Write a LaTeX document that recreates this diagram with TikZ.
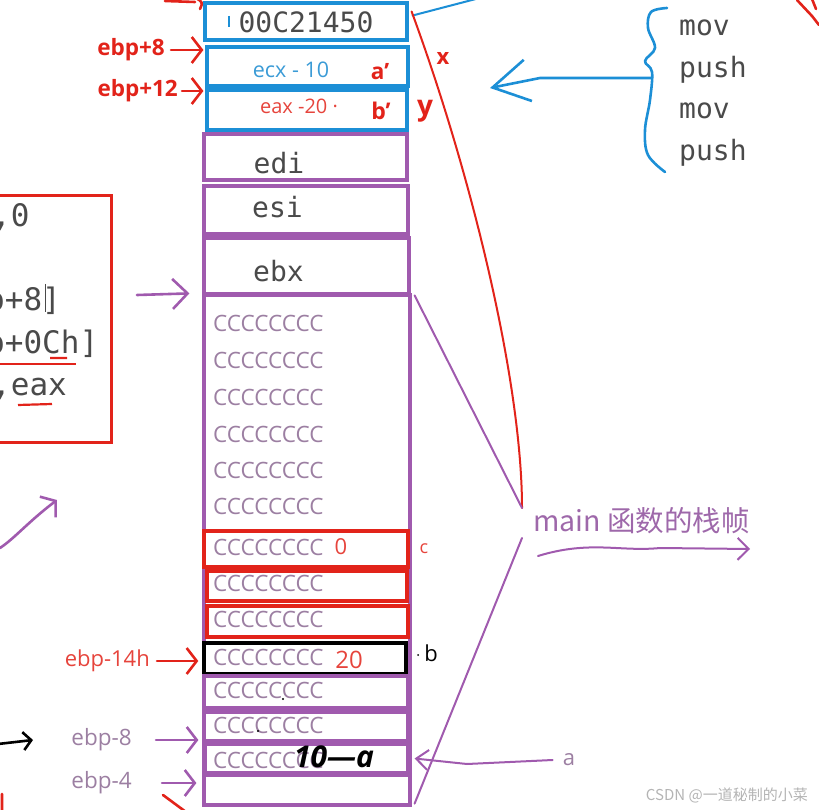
\documentclass[tikz,border=0pt]{standalone}
\usepackage{fontspec}
\usepackage{xcolor}
\usepackage{tikz}
\usetikzlibrary{arrows.meta,positioning,calc}
\setmainfont{Open Sans}
\setsansfont{Open Sans}
\setmonofont{DejaVu Sans Mono}
\newfontfamily\cjkfont{Noto Sans CJK SC}
\definecolor{stkblue}{HTML}{1C8FD6}
\definecolor{stkcyan}{HTML}{3B9BD6}
\definecolor{stkpurple}{HTML}{A05AAE}
\definecolor{stkmain}{HTML}{9E68AA}
\definecolor{stkred}{HTML}{E2231A}
\definecolor{stkcc}{HTML}{9C7FA2}
\definecolor{stkink}{HTML}{4A4A4A}
\definecolor{stkmark}{HTML}{B4B4B4}
\newcommand{\stkfs}[1]{\fontsize{#1}{#1}\selectfont}

\begin{document}
\begin{tikzpicture}[x=1pt, y=-1pt,
  cell/.style={draw, line width=3.2pt, inner sep=0pt},
  bluecell/.style={cell, draw=stkblue},
  purcell/.style={cell, draw=stkpurple},
  redcell/.style={cell, draw=stkred},
  blkcell/.style={cell, draw=black, line width=3.4pt},
  reg/.style={font=\ttfamily\stkfs{28}, text=stkink, inner sep=0pt},
  asm/.style={font=\ttfamily\stkfs{31}, text=stkink, anchor=base west, inner sep=0pt},
  cc/.style={font=\stkfs{22.5}, text=stkcc, anchor=west, inner sep=0pt},
  redlbl/.style={font=\bfseries\stkfs{22.5}, text=stkred, inner sep=0pt},
  plainlbl/.style={font=\stkfs{22}, inner sep=0pt},
  pen/.style={line width=2.6pt, line cap=round, line join=round},
  thinpen/.style={line width=2pt, line cap=round, line join=round},
  barb/.style={-{Straight Barb[length=10pt, width=26pt]}},
]
  \path[use as bounding box, clip] (0,0) rectangle (819,810);

  \node[bluecell, minimum width=202pt, minimum height=37pt] (ret) at (306,21.5) {};
  \node[bluecell, minimum width=201pt, minimum height=39pt] (argA) at (307.5,66.5) {};
  \node[bluecell, minimum width=200pt, minimum height=40pt] (argB) at (307,110) {};
  \node[purcell, minimum width=203pt, minimum height=46pt] (edi) at (305.5,157) {};
  \node[purcell, minimum width=204pt, minimum height=48pt] (esi) at (306,210) {};
  \node[purcell, minimum width=205pt, minimum height=56pt] (ebx) at (306.5,266) {};
  \node[purcell, minimum width=206pt, minimum height=510pt] (frame) at (307,550) {};
  \node[redcell, minimum width=204pt, minimum height=36pt] (locC) at (306,549) {};
  \node[redcell, minimum width=200pt, minimum height=30pt] (loc2) at (307,586) {};
  \node[redcell, minimum width=201pt, minimum height=31pt] (loc3) at (307.5,621.5) {};
  \node[blkcell, minimum width=202pt, minimum height=31pt] (locB) at (305,658.5) {};
  \node[purcell, minimum width=204pt, minimum height=32pt] (loc5) at (306,692) {};
  \node[purcell, minimum width=204pt, minimum height=29pt] (loc6) at (306,726.5) {};
  \node[purcell, minimum width=203pt, minimum height=29pt] (locA) at (306.5,758.5) {};
  \node[purcell, minimum width=206pt, minimum height=30pt] (loc8) at (307,790) {};

  \node[reg] (retv) at (306,22) {00C21450};
  \draw[stkblue, line width=1.4pt] (229,16) -- (229,27);
  \node[font=\stkfs{21.5}, text=stkcyan, inner sep=0pt] (ecxv) at (291,70) {ecx - 10};
  \node[font=\stkfs{20}, text=stkred!85, inner sep=0pt] (eaxv) at (299,106) {eax -20 ·};
  \node[redlbl] (aprime) at (380,72) {a'};
  \node[redlbl, font=\bfseries\stkfs{23}] (bprime) at (381,111) {b'};
  \node[reg] (ediv) at (279,163) {edi};
  \node[reg] (esiv) at (277.5,207) {esi};
  \node[reg] (ebxv) at (278.5,271) {ebx};

  \foreach \y [count=\i] in {323,360,397,434,470,506,547,583,619,657,690,725,760}
    \node[cc] (cc\i) at (213,\y) {CCCCCCCC};
  \node[plainlbl, text=stkred!85] (zero) at (341,547) {0};
  \node[plainlbl, font=\stkfs{24}, text=stkred!85] (twenty) at (349,660) {20};
  \node[font=\stkfs{18}, text=stkred!85, inner sep=0pt] (clbl) at (424,549) {c};
  \node[plainlbl, text=black] (blbl) at (431,653) {b};
  \fill (418,655) circle (1pt) (283,699) circle (1.2pt) (258,731) circle (1.2pt);
  \node[font=\bfseries\itshape\stkfs{30}, text=black, inner sep=0pt] (tenA) at (334,757) {10—a};

  \node[redlbl, anchor=east] (ebpA) at (165,50) {ebp+8};
  \node[redlbl, anchor=east] (ebpB) at (178,91) {ebp+12};
  \node[plainlbl, text=stkred!85, anchor=east] (ebpE) at (150,661) {ebp-14h};
  \node[plainlbl, font=\stkfs{22.5}, text=stkcc, anchor=east] (ebpC) at (132,740) {ebp-8};
  \node[plainlbl, font=\stkfs{22.5}, text=stkcc, anchor=east] (ebpD) at (132,783) {ebp-4};
  \draw[pen, stkred, barb, shorten <=6pt, shorten >=2pt] (ebpA.east) -- (ebpA.east -| argA.west);
  \draw[pen, stkred, barb, shorten <=4pt, shorten >=2pt] (ebpB.east) -- (ebpB.east -| argB.west);
  \draw[pen, stkred, barb, shorten <=7pt, shorten >=4pt] (ebpE.east) -- (ebpE.east -| locB.west);
  \draw[pen, stkpurple, barb, shorten <=24pt, shorten >=4pt] (ebpC.east) -- (ebpC.east -| loc6.west);
  \draw[pen, stkpurple, barb, shorten <=30pt, shorten >=6pt] (ebpD.east) -- (ebpD.east -| loc8.west);

  \foreach \w/\y [count=\i] in {mov/28,push/70,mov/111,push/153}
    \node[reg, anchor=west] (op\i) at (679,\y) {\w};
  \draw[pen, stkblue] plot[smooth, tension=0.6] coordinates {(667,8) (651,12) (648,28) (655,48) (645,61) (652,72) (650,100) (645,130) (648,155) (665,172)};
  \coordinate (bracetip) at (652,78);
  \coordinate (bluehead) at (490,88);
  \coordinate (blueout) at (495,-6);
  \draw[pen, stkblue, -{Straight Barb[length=36pt, width=42pt]}] (bracetip) -- (540,78) -- (bluehead);
  \draw[thinpen, stkblue] ([shift={(4,-6)}]ret.east) -- (blueout);

  \coordinate (joinup) at (522,508);
  \coordinate (joinlow) at (522,538);
  \draw[thinpen, stkred] ([shift={(3,-10)}]ret.east) .. controls (470,170) and (522,380) .. (joinup);
  \node[font=\bfseries\stkfs{22}, text=stkred, inner sep=0pt] (xlbl) at (443,58) {x};
  \node[font=\bfseries\stkfs{28}, text=stkred, inner sep=0pt] (ylbl) at (425,111) {y};
  \draw[thinpen, stkpurple] ([shift={(3,2)}]frame.north east) -- (joinup);
  \draw[thinpen, stkpurple] (joinlow) -- ([shift={(3,-3)}]frame.south east);
  \node[font=\cjkfont\stkfs{28.5}, text=stkmain, anchor=west, inner sep=0pt] (mainlbl) at (533,521) {main 函数的栈帧};
  \draw[thinpen, stkpurple, -{Straight Barb[length=11pt, width=22pt]}] ([shift={(5,35)}]mainlbl.west) .. controls (590,540) and (620,552) .. (660,548) -- ([shift={(217,28)}]mainlbl.west);

  \node[plainlbl, text=stkcc] (albl) at (569,760) {a};
  \draw[thinpen, stkpurple, -{Straight Barb[length=12pt, width=20pt]}] ([xshift=-10pt]albl.west) -- (467,764) -- ([xshift=5pt]locA.east);

  \coordinate (ptail) at (137,295);
  \draw[pen, stkpurple, -{Straight Barb[length=15pt, width=30pt]}] (ptail) -- ([xshift=-13pt]frame.north west);

  \node[draw=stkred, line width=3pt, minimum width=121pt, minimum height=246pt, inner sep=0pt] (asmbox) at (50.5,319) {};
  \node[asm] (asm1) at (-8,227) {,0};
  \node[asm] (asm2) at (-14,310) {p+8]};
  \node[asm] (asm3) at (-14,353) {p+0Ch]};
  \node[asm] (asm4) at (-8,395) {,eax};
  \draw[stkink, line width=1pt] (45,284) -- (45,312);
  \draw[stkred, line width=2.2pt] (50,358) -- (67,358) (18,405) -- (52,404);
  \draw[stkred, line width=1.5pt] (0,364) -- (76,364);

  \draw[pen, stkpurple, barb] (0,548) .. controls (15,538) and (28,522) .. (57,500);
  \draw[pen, black, -{Straight Barb[length=8pt, width=18pt]}] (-2,744) -- (33,740);
  \draw[pen, stkred] (165,1) -- (195,2) (194,-3) .. controls (203,2) .. (200,9);
  \draw[pen, stkred] (797,0) -- (812,16) -- (819,25) (812,-1) -- (816,9);
  \draw[pen, stkred] (2,794) -- (2,812) (163,795) -- (186,812);

  \node[font=\cjkfont\stkfs{15}, text=stkmark, anchor=east, inner sep=0pt] (mark) at (808,795) {CSDN @一道秘制的小菜};
\end{tikzpicture}
\end{document}
